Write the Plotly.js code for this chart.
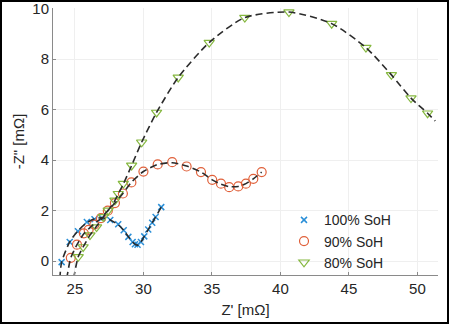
<!DOCTYPE html>
<html>
<head>
<meta charset="utf-8">
<script src="https://cdn.plot.ly/plotly-3.0.1.min.js"></script>
<style>
html,body{margin:0;padding:0;background:#fff;}
#wrap{position:relative;width:449px;height:324px;}
#chart{width:449px;height:324px;}
#frame{position:absolute;left:0;top:0;width:449px;height:324px;box-sizing:border-box;border:2px solid #000;pointer-events:none;}
</style>
</head>
<body>
<div id="wrap"><div id="chart"></div><div id="frame"></div></div>
<script>
// Series names
const seriesNames = ['100% SoH', '90% SoH', '80% SoH'];

// 100% SoH measured points
const soh100X = [24.03, 24.62, 25.22, 25.87, 26.43, 26.98, 27.58, 28.16, 28.56, 28.9, 29.21, 29.38, 29.57, 29.82, 30.06, 30.35, 30.64, 30.89, 31.3];
const soh100Y = [-0.04, 0.76, 1.18, 1.55, 1.66, 1.71, 1.63, 1.46, 1.22, 0.96, 0.76, 0.67, 0.65, 0.76, 0.98, 1.25, 1.52, 1.75, 2.14];

// 90% SoH measured points
const soh90X = [24.7, 25.15, 25.65, 26.0, 26.42, 26.9, 27.4, 27.92, 28.5, 29.12, 30.0, 31.04, 32.1, 33.15, 34.2, 35.02, 35.66, 36.26, 36.92, 37.48, 38.02, 38.63];
const soh90Y = [0.13, 0.65, 1.1, 1.24, 1.45, 1.7, 2.0, 2.3, 2.68, 3.12, 3.55, 3.83, 3.92, 3.75, 3.53, 3.22, 3.07, 2.93, 2.96, 3.07, 3.26, 3.53];

// 80% SoH measured points
const soh80X = [25.24, 25.6, 26.1, 26.58, 27.07, 27.43, 27.92, 28.16, 28.53, 29.14, 29.87, 30.96, 32.54, 34.8, 37.4, 40.62, 43.74, 46.24, 48.1, 49.53, 50.74];
const soh80Y = [0.17, 0.56, 1.03, 1.35, 1.75, 2.01, 2.41, 2.67, 3.07, 3.79, 4.71, 5.89, 7.28, 8.66, 9.65, 9.87, 9.41, 8.46, 7.38, 6.46, 5.86];

// Fitted model curves
const fit100X = [23.9, 24.03, 24.62, 25.22, 25.87, 26.43, 26.98, 27.58, 28.16, 28.56, 28.9, 29.21, 29.45, 29.62, 29.82, 30.06, 30.35, 30.64, 30.89, 31.3];
const fit100Y = [-0.7, -0.04, 0.76, 1.2, 1.52, 1.68, 1.72, 1.63, 1.44, 1.22, 0.97, 0.76, 0.65, 0.64, 0.76, 0.98, 1.25, 1.52, 1.75, 2.14];
const fit90X = [24.4, 24.7, 25.15, 25.65, 26.2, 26.9, 27.4, 27.92, 28.5, 29.12, 30.0, 31.04, 32.1, 33.15, 34.2, 35.02, 35.66, 36.26, 36.92, 37.48, 38.02, 38.63];
const fit90Y = [-0.7, 0.13, 0.65, 1.08, 1.38, 1.7, 2.0, 2.3, 2.68, 3.12, 3.55, 3.83, 3.9, 3.77, 3.53, 3.22, 3.05, 2.95, 2.96, 3.07, 3.26, 3.53];
const fit80X = [24.9, 25.24, 25.6, 26.1, 26.58, 27.07, 27.5, 27.92, 28.53, 29.14, 29.87, 30.96, 32.54, 34.8, 37.4, 40.62, 43.74, 46.24, 48.1, 49.53, 50.74, 51.3];
const fit80Y = [-0.7, 0.17, 0.56, 1.03, 1.38, 1.75, 2.06, 2.41, 3.05, 3.79, 4.71, 5.89, 7.28, 8.66, 9.65, 9.87, 9.41, 8.46, 7.38, 6.46, 5.86, 5.55];

// Axis ticks
const xTicks = [25, 30, 35, 40, 45, 50];
const yTicks = [0, 2, 4, 6, 8, 10];

const fitLine = {color: '#2b2b2b', width: 1.6, dash: '7px,4px', shape: 'spline', smoothing: 0.7};

const traces = [
  {x: soh100X, y: soh100Y, mode: 'markers', name: seriesNames[0],
   marker: {symbol: 'x-thin-open', size: 6, color: '#2a8fd8', line: {color: '#2a8fd8', width: 1.5}}},
  {x: soh90X, y: soh90Y, mode: 'markers', name: seriesNames[1],
   marker: {symbol: 'circle-open', size: 9, color: '#e0603a', line: {color: '#e0603a', width: 1.2}}},
  {x: soh80X, y: soh80Y, mode: 'markers', name: seriesNames[2],
   marker: {symbol: 'triangle-down-open', size: 9, color: '#86b840', line: {color: '#86b840', width: 1.2}}},
  {x: fit100X, y: fit100Y, mode: 'lines', showlegend: false, hoverinfo: 'skip', line: fitLine},
  {x: fit90X, y: fit90Y, mode: 'lines', showlegend: false, hoverinfo: 'skip', line: fitLine},
  {x: fit80X, y: fit80Y, mode: 'lines', showlegend: false, hoverinfo: 'skip', line: fitLine}
];

const axisFont = {family: 'Liberation Sans, Arial, sans-serif', size: 15, color: '#262626'};
const titleFont = {family: 'Liberation Sans, Arial, sans-serif', size: 15, color: '#262626'};
const legendFont = {family: 'Liberation Sans, Arial, sans-serif', size: 14, color: '#262626'};

const layout = {
  width: 449, height: 324,
  margin: {l: 53, r: 11, t: 8, b: 49},
  paper_bgcolor: '#fff', plot_bgcolor: '#fff',
  font: axisFont,
  showlegend: true,
  legend: {x: 0.6, y: 0.265, xanchor: 'left', yanchor: 'top', bgcolor: 'rgba(0,0,0,0)',
           font: legendFont, tracegroupgap: 0, itemwidth: 30},
  xaxis: {
    range: [23.4, 51.5], tickvals: xTicks, ticktext: xTicks.map(String),
    showline: true, linecolor: '#8a8a8a', linewidth: 1,
    ticks: 'inside', ticklen: 3, tickcolor: '#8a8a8a',
    showgrid: true, gridcolor: '#efefef', zeroline: false,
    tickfont: axisFont,
    title: {text: "Z' [mΩ]", font: titleFont, standoff: 8}
  },
  yaxis: {
    range: [-0.55, 10.03], tickvals: yTicks, ticktext: yTicks.map(String),
    showline: true, linecolor: '#8a8a8a', linewidth: 1,
    ticks: 'inside', ticklen: 3, tickcolor: '#8a8a8a',
    showgrid: true, gridcolor: '#efefef', zeroline: false,
    tickfont: axisFont,
    title: {text: '-Z" [mΩ]', font: titleFont, standoff: 4}
  }
};

Plotly.newPlot('chart', traces, layout, {displayModeBar: false, staticPlot: true});
</script>
</body>
</html>
